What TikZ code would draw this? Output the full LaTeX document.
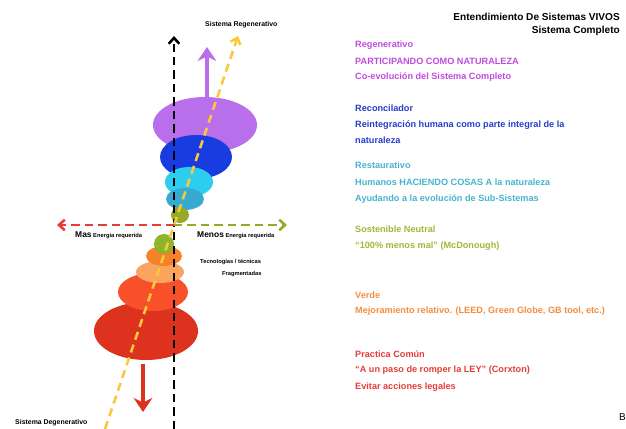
\documentclass[tikz,border=0pt]{standalone}
\usepackage{fontspec}
\setmainfont{Liberation Sans}
\usetikzlibrary{arrows.meta}

\definecolor{regen}{RGB}{185,110,235}
\definecolor{reconc}{RGB}{25,60,225}
\definecolor{restcyan}{RGB}{45,205,240}
\definecolor{restteal}{RGB}{55,170,210}
\definecolor{neutral}{RGB}{150,170,40}
\definecolor{neutralb}{RGB}{140,180,45}
\definecolor{verde}{RGB}{245,130,40}
\definecolor{verdeb}{RGB}{250,165,95}
\definecolor{comun}{RGB}{248,80,40}
\definecolor{degen}{RGB}{220,50,30}
\definecolor{regentxt}{RGB}{190,75,220}
\definecolor{reconctxt}{RGB}{40,60,200}
\definecolor{resttxt}{RGB}{70,180,205}
\definecolor{neutraltxt}{RGB}{165,180,55}
\definecolor{verdetxt}{RGB}{245,140,60}
\definecolor{comuntxt}{RGB}{230,60,55}
\definecolor{axisyellow}{RGB}{250,200,60}

\tikzset{
  axis/.style={line width=2.2pt, dash pattern=on 7pt off 4.5pt, -{Straight Barb[length=5pt,width=9pt]}},
  bigarrow/.style={line width=3.5pt, -{Stealth[length=12pt,width=16pt,inset=4pt]}},
  level/.style={anchor=west, font=\fontsize{7.8}{9}\selectfont\bfseries, inner sep=0pt},
  tiny/.style={font=\fontsize{4.9}{6}\selectfont\bfseries, inner sep=0pt},
  sysname/.style={anchor=west, font=\fontsize{5.9}{7}\selectfont\bfseries, inner sep=0pt},
}

\begin{document}
\begin{tikzpicture}[x=0.03cm,y=-0.03cm]
\useasboundingbox (0,0) rectangle (626,429);

% upper ellipses, regenerativo to neutral
\fill[regen] (205,125) ellipse (52 and 28);
\fill[reconc] (196,157) ellipse (36 and 22);
\fill[restcyan] (189,182) ellipse (24 and 15);
\fill[restteal] (185,199) ellipse (19 and 11);
\fill[neutral] (180,215) ellipse (9 and 8);
% lower ellipses, degenerativo to neutral
\fill[degen] (146,331) ellipse (52 and 29);
\fill[comun] (153,292) ellipse (35 and 19);
\fill[verdeb] (160,272) ellipse (24 and 11);
\fill[verde] (164,256) ellipse (18 and 10);
\fill[neutralb] (164,244) ellipse (10 and 10);

% axes
\coordinate (o) at (174,225);
\coordinate (top) at (174,36);
\coordinate (bot) at (174,429);
\coordinate (left) at (57,225);
\coordinate (right) at (287,225);
\coordinate (ytop) at (238,36);
\coordinate (ybot) at (105,429);
\draw[axis, black] (bot) -- (top);
\draw[axis, axisyellow] (ybot) -- (ytop);
\draw[axis, comuntxt] (o) -- (left);
\draw[axis, neutral] (o) -- (right);

% direction arrows
\coordinate (up0) at (207,98);
\coordinate (up1) at (207,47);
\coordinate (dn0) at (143,364);
\coordinate (dn1) at (143,412);
\draw[bigarrow, regen] (up0) -- (up1);
\draw[bigarrow, degen] (dn0) -- (dn1);

% labels on the left
\node[sysname] (regsys) at (205,25) {Sistema Regenerativo};
\node[sysname] (degsys) at (15,423) {Sistema Degenerativo};
\node[tiny, anchor=west] (mas) at (75,235) {{\fontsize{7.2}{8}\selectfont Mas} Energia requerida};
\node[tiny, anchor=west] (menos) at (197,235) {{\fontsize{7.2}{8}\selectfont Menos} Energia requerida};
\node[tiny, anchor=west] (tec) at (200,262) {Tecnologías / técnicas};
\node[tiny, anchor=west] (frag) at (222,274) {Fragmentadas};

% title
\node[anchor=east, inner sep=0pt, align=right, font=\fontsize{8.6}{11}\selectfont\bfseries] (title) at (620,24)
  {Entendimiento De Sistemas VIVOS\\Sistema Completo};

% levels on the right
\node[level, regentxt] (r1) at (355,45) {Regenerativo};
\node[level, regentxt] (r2) at (355,61) {PARTICIPANDO COMO NATURALEZA};
\node[level, regentxt] (r3) at (355,77) {Co-evolución del Sistema Completo};
\node[level, reconctxt] (c1) at (355,108) {Reconcilador};
\node[level, reconctxt] (c2) at (355,125) {Reintegración humana como parte integral de la};
\node[level, reconctxt] (c3) at (355,140) {naturaleza};
\node[level, resttxt] (s1) at (355,165) {Restaurativo};
\node[level, resttxt] (s2) at (355,182) {Humanos HACIENDO COSAS A la naturaleza};
\node[level, resttxt] (s3) at (355,199) {Ayudando a la evolución de Sub-Sistemas};
\node[level, neutraltxt] (n1) at (355,229) {Sostenible Neutral};
\node[level, neutraltxt] (n2) at (355,246) {``100\% menos mal'' (McDonough)};
\node[level, verdetxt] (v1) at (355,295) {Verde};
\node[level, verdetxt] (v2) at (355,311) {Mejoramiento relativo. (LEED, Green Globe, GB tool, etc.)};
\node[level, comuntxt] (p1) at (355,354) {Practica Común};
\node[level, comuntxt] (p2) at (355,370) {``A un paso de romper la LEY'' (Corxton)};
\node[level, comuntxt] (p3) at (355,387) {Evitar acciones legales};

\node[anchor=east, inner sep=0pt, font=\fontsize{8.5}{10}\selectfont] (b) at (626,417) {B};
\end{tikzpicture}
\end{document}
